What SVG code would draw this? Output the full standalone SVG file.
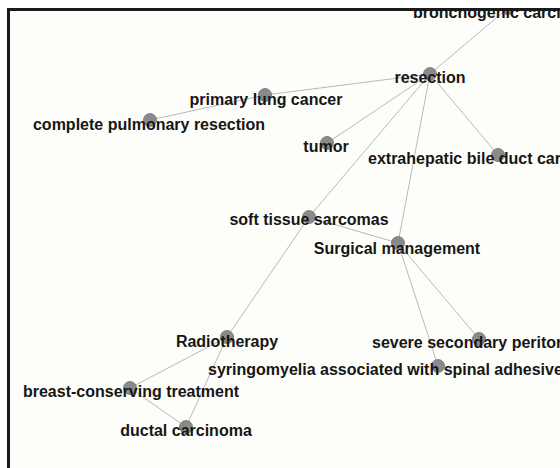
<svg xmlns="http://www.w3.org/2000/svg" width="560" height="468" viewBox="0 0 560 468">
<defs>
<style>
.e{stroke:#a6a6a6;stroke-width:0.8;fill:none}
.n circle{fill:#8a8a8a;stroke:#707070;stroke-width:0.8}
.n text{font-family:"Liberation Sans",Arial,sans-serif;font-size:16px;font-weight:bold;fill:#161616;text-anchor:middle}
.n text.s{text-anchor:start}
</style>
<clipPath id="frame"><rect x="10" y="11" width="560" height="470"/></clipPath>
</defs>
<rect x="0" y="0" width="560" height="468" fill="#ffffff"/>
<rect x="9" y="10" width="560" height="470" fill="#fdfdf9"/>
<g clip-path="url(#frame)">
<g id="edges">
<line class="e" x1="430" y1="74" x2="508" y2="8"/>
<line class="e" x1="430" y1="74" x2="265" y2="95"/>
<line class="e" x1="265" y1="95" x2="150" y2="120"/>
<line class="e" x1="430" y1="74" x2="327" y2="143"/>
<line class="e" x1="430" y1="74" x2="498" y2="155"/>
<line class="e" x1="430" y1="74" x2="309" y2="217"/>
<line class="e" x1="430" y1="74" x2="398" y2="243"/>
<line class="e" x1="309" y1="217" x2="398" y2="243"/>
<line class="e" x1="309" y1="217" x2="227" y2="337"/>
<line class="e" x1="398" y1="243" x2="479" y2="339"/>
<line class="e" x1="398" y1="243" x2="438" y2="366"/>
<line class="e" x1="227" y1="337" x2="130" y2="388"/>
<line class="e" x1="227" y1="337" x2="186" y2="427"/>
<line class="e" x1="130" y1="388" x2="186" y2="427"/>
</g>
<g id="n-bronchogenic" class="n"><circle cx="508" cy="8" r="6.5"/><text class="s" x="413" y="18">bronchogenic carci</text></g>
<g id="n-resection" class="n"><circle cx="430" cy="74" r="6.5"/><text x="430" y="83">resection</text></g>
<g id="n-primary" class="n"><circle cx="265" cy="95" r="6.5"/><text x="266" y="105">primary lung cancer</text></g>
<g id="n-complete" class="n"><circle cx="150" cy="120" r="6.5"/><text x="149" y="129.5">complete pulmonary resection</text></g>
<g id="n-tumor" class="n"><circle cx="327" cy="143" r="6.5"/><text x="326" y="152">tumor</text></g>
<g id="n-extrahepatic" class="n"><circle cx="498" cy="155" r="6.5"/><text class="s" x="368" y="163.5">extrahepatic bile duct car</text></g>
<g id="n-soft" class="n"><circle cx="309" cy="217" r="6.5"/><text x="309" y="224.5">soft tissue sarcomas</text></g>
<g id="n-surgical" class="n"><circle cx="398" cy="243" r="6.5"/><text x="397" y="253.5">Surgical management</text></g>
<g id="n-radio" class="n"><circle cx="227" cy="337" r="6.5"/><text x="227" y="347">Radiotherapy</text></g>
<g id="n-severe" class="n"><circle cx="479" cy="339" r="6.5"/><text class="s" x="372" y="348">severe secondary peritor</text></g>
<g id="n-syringo" class="n"><circle cx="438" cy="366" r="6.5"/><text class="s" x="208" y="375">syringomyelia associated with spinal adhesive</text></g>
<g id="n-breast" class="n"><circle cx="130" cy="388" r="6.5"/><text x="131" y="397">breast-conserving treatment</text></g>
<g id="n-ductal" class="n"><circle cx="186" cy="427" r="6.5"/><text x="186" y="435.5">ductal carcinoma</text></g>
</g>
<path d="M8.5 468 V9.5 H560" fill="none" stroke="#1a1a1a" stroke-width="3"/>
</svg>
